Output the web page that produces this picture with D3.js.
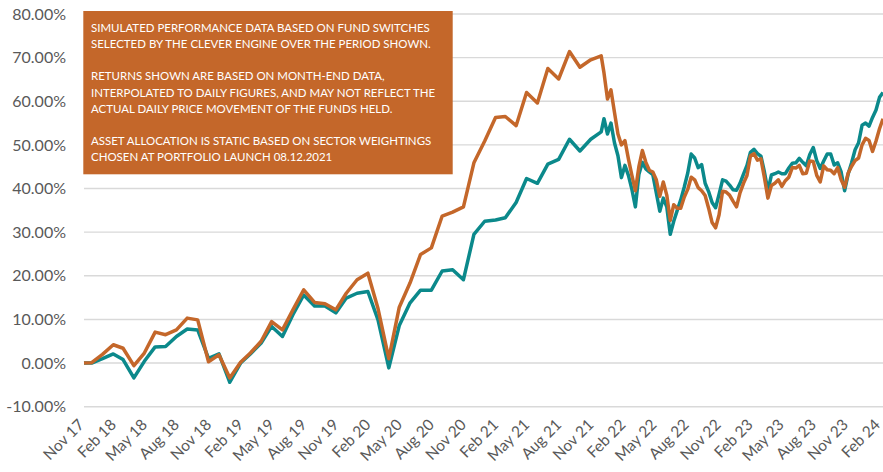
<!DOCTYPE html>
<html>
<head>
<meta charset="utf-8">
<script src="https://cdn.jsdelivr.net/npm/d3@7"></script>
<style>
    body { margin: 0; background: #fff; }
    svg { display: block; font-family: Lato, "Open Sans", sans-serif; }
</style>
</head>
<body>
<svg id="chart" width="883" height="472"></svg>
<script>
"use strict";

// first simulated point, then month-end values up to launch
const startDate = new Date(2017, 10, 8);
const launchDate = new Date(2021, 11, 8);
const dailyStepDays = 10;

const orangeMonthly = [0,
    0.1, 2.0,
    4.2, 3.4, -0.6, 2.3, 7.1, 6.5, 7.6, 10.3, 9.9, 0.3, 1.9, -3.4,
    0.2, 2.3, 5.0, 9.5, 7.6, 12.2, 16.8, 13.9, 13.6, 12.2, 16.0, 19.1,
    20.6, 12.5, 1.0, 12.8, 18.4, 24.9, 26.4, 33.7, 34.6, 35.8, 45.9, 50.9,
    56.3, 56.5, 54.4, 62.0, 59.6, 67.5, 65.1, 71.4, 67.8, 69.5, 70.4];

const tealMonthly = [0,
    0.0, 1.0,
    2.1, 0.8, -3.4, 0.4, 3.7, 3.8, 6.1, 7.8, 7.6, 1.1, 2.1, -4.4,
    0.0, 2.1, 4.6, 8.4, 6.1, 11.1, 15.6, 13.1, 13.1, 11.5, 14.9, 16.0,
    16.4, 9.9, -1.1, 8.6, 13.8, 16.7, 16.7, 21.1, 21.4, 19.1, 29.5, 32.5,
    32.8, 33.3, 36.8, 42.3, 41.2, 45.6, 46.7, 51.3, 48.6, 51.3, 53.0];

// interpolated daily figures after launch, read every 10 days
const orangeDaily = [66.5, 60.5, 62.6, 57.5, 52.5, 50.0, 51.0, 46.8, 43.0, 39.5,
    45.0, 48.7, 46.0, 44.2, 43.8, 42.0, 38.2, 41.5, 38.5, 32.7,
    36.3, 35.5, 35.5, 38.0, 39.8, 42.6, 42.0, 40.2, 39.5, 38.4,
    35.5, 32.2, 31.0, 34.0, 39.4, 39.2, 38.5, 37.1, 35.8, 39.0,
    41.2, 43.0, 47.5, 48.0, 46.5, 46.8, 42.5, 37.8, 40.7, 41.2,
    42.0, 40.5, 41.8, 42.6, 44.8, 44.7, 45.3, 43.4, 43.5, 46.3,
    46.2, 43.0, 41.5, 45.2, 44.3, 44.2, 43.4, 44.8, 42.0, 40.3,
    43.5, 45.1, 46.4, 47.0, 50.0, 51.5, 51.0, 48.5, 50.9, 53.7, 56.0];

const tealDaily = [56.0, 52.5, 55.0, 50.5, 47.5, 42.5, 45.3, 43.0, 39.8, 35.8,
    43.2, 46.0, 44.5, 43.8, 43.2, 39.0, 34.8, 37.8, 35.8, 29.5,
    32.5, 35.0, 37.4, 40.3, 43.5, 47.9, 47.0, 44.8, 45.5, 41.2,
    39.3, 36.8, 35.6, 38.7, 42.0, 41.7, 40.8, 39.7, 39.6, 41.2,
    43.3, 45.3, 48.3, 49.0, 48.0, 47.4, 43.8, 39.5, 43.1, 43.4,
    43.8, 43.4, 43.4, 44.7, 45.8, 45.9, 46.9, 46.0, 45.2, 47.8,
    49.4, 46.4, 44.6, 46.3, 47.9, 47.9, 45.4, 45.9, 43.8, 39.5,
    43.3, 45.9, 48.9, 50.5, 54.5, 55.0, 54.3, 56.3, 58.0, 60.9, 62.0];

const yTicks = [-10, 0, 10, 20, 30, 40, 50, 60, 70, 80];

const noteLines = [
    "SIMULATED PERFORMANCE DATA BASED ON FUND SWITCHES",
    "SELECTED BY THE CLEVER ENGINE OVER THE PERIOD SHOWN.",
    "",
    "RETURNS SHOWN ARE BASED ON MONTH-END DATA,",
    "INTERPOLATED TO DAILY FIGURES, AND MAY NOT REFLECT THE",
    "ACTUAL DAILY PRICE MOVEMENT OF THE FUNDS HELD.",
    "",
    "ASSET ALLOCATION IS STATIC BASED ON SECTOR WEIGHTINGS",
    "CHOSEN AT PORTFOLIO LAUNCH 08.12.2021"
];

const colOrange = "#C4672A";
const colTeal = "#0B898B";

(function () {
    // build dates: start, month ends, then every 10 days from launch
    var monthlyDates = [startDate].concat(
        d3.timeMonth.range(new Date(2017, 11, 1), new Date(2021, 11, 2))
            .map(function (d) { return d3.timeDay.offset(d, -1); }));
    var dailyDates = orangeDaily.map(function (v, i) {
        return d3.timeDay.offset(launchDate, i * dailyStepDays);
    });

    function series(values, dailyValues) {
        var pts = values.map(function (v, i) { return { date: monthlyDates[i], value: v }; });
        return pts.concat(dailyValues.map(function (v, i) { return { date: dailyDates[i], value: v }; }));
    }
    var orangeData = series(orangeMonthly, orangeDaily);
    var tealData = series(tealMonthly, tealDaily);

    var svg = d3.select("#chart");
    var plotLeft = 84, plotRight = 883, plotTop = 14, plotBottom = 406.7;

    var x = d3.scaleTime()
        .domain([startDate, dailyDates[dailyDates.length - 1]])
        .range([plotLeft, plotRight]);
    var y = d3.scaleLinear()
        .domain([-10, 80])
        .range([plotBottom, plotTop]);

    // gridlines
    svg.append("g")
        .selectAll("line")
        .data(yTicks)
        .enter()
        .append("line")
        .attr("x1", plotLeft)
        .attr("x2", plotRight)
        .attr("y1", function (d) { return y(d); })
        .attr("y2", function (d) { return y(d); })
        .attr("stroke", "#D9D9D9")
        .attr("stroke-width", 1.4);

    // y axis labels
    var yAxis = d3.axisLeft(y)
        .tickValues(yTicks)
        .tickSize(0)
        .tickPadding(0)
        .tickFormat(function (d) { return d.toFixed(2) + "%"; });
    svg.append("g")
        .attr("transform", "translate(66,0)")
        .call(yAxis)
        .call(function (g) { g.select(".domain").remove(); })
        .selectAll("text")
        .attr("font-family", "Lato, sans-serif")
        .attr("font-size", 16)
        .attr("fill", "#595959");

    // x axis labels, every three months from the first date
    var xTicks = d3.range(0, 26).map(function (i) { return d3.timeMonth.offset(startDate, i * 3); });
    var xAxis = d3.axisBottom(x)
        .tickValues(xTicks)
        .tickSize(0)
        .tickFormat(d3.timeFormat("%b %y"));
    svg.append("g")
        .attr("transform", "translate(0," + plotBottom + ")")
        .call(xAxis)
        .call(function (g) { g.select(".domain").remove(); })
        .selectAll("text")
        .attr("font-family", "Lato, sans-serif")
        .attr("font-size", 15.5)
        .attr("fill", "#595959")
        .attr("text-anchor", "end")
        .attr("dy", null)
        .attr("y", 0)
        .attr("transform", "translate(0.5,19) rotate(-45)");

    // lines
    var line = d3.line()
        .x(function (d) { return x(d.date); })
        .y(function (d) { return y(d.value); });

    svg.append("path")
        .datum(tealData)
        .attr("fill", "none")
        .attr("stroke", colTeal)
        .attr("stroke-width", 3.5)
        .attr("stroke-linejoin", "round")
        .attr("d", line);

    svg.append("path")
        .datum(orangeData)
        .attr("fill", "none")
        .attr("stroke", colOrange)
        .attr("stroke-width", 3.5)
        .attr("stroke-linejoin", "round")
        .attr("d", line);

    // note box
    var note = svg.append("g");
    note.append("rect")
        .attr("x", 83.3)
        .attr("y", 11)
        .attr("width", 369.4)
        .attr("height", 163.3)
        .attr("fill", colOrange);

    var noteText = note.selectAll("text")
        .data(noteLines)
        .enter()
        .append("text")
        .attr("x", 91)
        .attr("y", function (d, i) { return 31.8 + i * 16.2; })
        .attr("fill", "#fff")
        .attr("font-family", "Lato, sans-serif")
        .attr("font-size", 11)
        .text(function (d) { return d; });

    // fit the first line to its width in the reference
    var w0 = noteText.node().getComputedTextLength();
    noteText.attr("font-size", 11 * 339 / w0);
})();
</script>
</body>
</html>
